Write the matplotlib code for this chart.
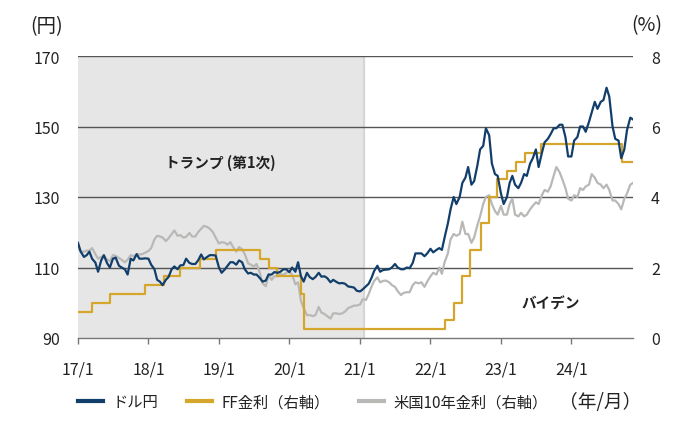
import numpy as np
import pandas as pd
import matplotlib
matplotlib.use('Agg')
import matplotlib.pyplot as plt
from matplotlib.lines import Line2D

plt.rcParams['font.family'] = ['Noto Sans CJK JP', 'DejaVu Sans']

# ---- data (semi-monthly: 1st and 15th, Jan 2017 - Nov 2024) ----
usdjpy = [
    # 2017
    117.0, 114.5, 113.0, 113.5, 114.5, 112.5, 111.4, 108.8, 112.0, 113.5, 111.2, 110.0,
    112.5, 112.8, 110.5, 110.0, 109.5, 108.0, 112.5, 112.0, 113.8, 112.5, 112.5, 112.6,
    # 2018
    112.5, 110.8, 109.5, 106.5, 106.0, 105.0, 106.5, 107.3, 109.5, 110.3, 109.5, 110.6,
    110.7, 112.5, 111.3, 111.0, 111.0, 112.0, 113.7, 112.3, 113.0, 113.5, 113.5, 113.4,
    # 2019
    110.0, 108.5, 109.5, 110.5, 111.5, 111.5, 110.8, 112.0, 111.5, 109.5, 108.3, 108.5,
    108.0, 108.0, 107.0, 106.0, 106.3, 108.0, 108.0, 108.7, 108.5, 108.8, 109.5, 109.5,
    # 2020
    108.7, 110.0, 108.8, 111.5, 107.5, 106.0, 108.5, 107.3, 106.7, 107.3, 108.5, 107.4,
    107.5, 107.0, 105.8, 106.5, 105.9, 105.5, 105.6, 105.4, 104.6, 104.5, 104.3, 103.4,
    # 2021
    103.2, 103.8, 104.7, 105.4, 107.0, 109.0, 110.5, 108.8, 109.3, 109.4, 109.5, 110.0,
    111.0, 110.0, 109.5, 109.5, 110.0, 109.8, 111.3, 114.0, 114.0, 114.0, 113.2, 114.0,
    # 2022
    115.3, 114.3, 115.0, 115.5, 115.0, 118.5, 122.5, 126.5, 130.0, 128.0, 130.0, 134.0,
    135.5, 138.5, 133.5, 134.5, 139.0, 143.5, 144.5, 149.5, 147.5, 139.5, 136.5, 136.0,
    # 2023
    131.0, 128.0, 130.0, 134.0, 136.0, 133.5, 132.5, 134.0, 136.5, 136.0, 139.5, 141.0,
    143.5, 138.5, 142.5, 145.5, 146.5, 147.8, 149.5, 149.5, 150.5, 150.5, 147.0, 141.5,
    # 2024
    141.5, 146.0, 147.0, 150.0, 150.0, 148.5, 151.3, 154.0, 157.0, 155.0, 157.0, 157.5,
    161.0, 158.5, 150.0, 146.5, 146.0, 141.0, 143.5, 149.0, 152.5, 152.0,
]

ust10y = [
    # 2017
    2.55, 2.45, 2.45, 2.48, 2.48, 2.55, 2.38, 2.25, 2.30, 2.33, 2.22, 2.18,
    2.35, 2.33, 2.27, 2.22, 2.15, 2.22, 2.35, 2.32, 2.37, 2.37, 2.38, 2.42,
    # 2018
    2.47, 2.55, 2.80, 2.90, 2.88, 2.85, 2.75, 2.83, 2.95, 3.05, 2.90, 2.92,
    2.85, 2.87, 2.98, 2.88, 2.88, 3.00, 3.10, 3.18, 3.15, 3.10, 3.00, 2.85,
    # 2019
    2.68, 2.72, 2.70, 2.65, 2.72, 2.58, 2.45, 2.58, 2.52, 2.38, 2.12, 2.08,
    2.03, 2.10, 1.85, 1.55, 1.47, 1.80, 1.65, 1.75, 1.75, 1.83, 1.78, 1.85,
    # 2020
    1.88, 1.80, 1.52, 1.58, 1.05, 0.85, 0.65, 0.65, 0.62, 0.65, 0.88, 0.72,
    0.68, 0.62, 0.55, 0.70, 0.70, 0.68, 0.70, 0.75, 0.85, 0.88, 0.92, 0.92,
    # 2021
    0.95, 1.10, 1.08, 1.25, 1.45, 1.62, 1.72, 1.58, 1.62, 1.63, 1.58, 1.50,
    1.45, 1.33, 1.22, 1.28, 1.30, 1.30, 1.50, 1.58, 1.55, 1.58, 1.45, 1.60,
    # 2022
    1.75, 1.85, 1.80, 2.00, 1.82, 2.15, 2.40, 2.80, 2.95, 2.90, 2.95, 3.30,
    2.95, 2.95, 2.70, 2.85, 3.20, 3.45, 3.80, 4.00, 4.05, 3.80, 3.60, 3.50,
    # 2023
    3.75, 3.50, 3.50, 3.80, 3.95, 3.50, 3.45, 3.55, 3.45, 3.50, 3.65, 3.75,
    3.85, 3.80, 4.05, 4.20, 4.15, 4.30, 4.60, 4.85, 4.70, 4.50, 4.25, 3.95,
    # 2024
    3.90, 4.05, 4.00, 4.25, 4.20, 4.30, 4.35, 4.65, 4.55, 4.40, 4.35, 4.25,
    4.35, 4.20, 3.90, 3.90, 3.80, 3.65, 3.95, 4.10, 4.35, 4.40,
]

ff_change_dates = [
    '2017-01-01', '2017-03-15', '2017-06-14', '2017-12-13', '2018-03-21',
    '2018-06-13', '2018-09-26', '2018-12-19', '2019-07-31', '2019-09-18',
    '2019-10-30', '2020-03-03', '2020-03-15', '2022-03-16', '2022-05-04',
    '2022-06-15', '2022-07-27', '2022-09-21', '2022-11-02', '2022-12-14',
    '2023-02-01', '2023-03-22', '2023-05-03', '2023-07-26', '2024-09-18',
]
ff_levels = [
    0.75, 1.00, 1.25, 1.50, 1.75,
    2.00, 2.25, 2.50, 2.25, 2.00,
    1.75, 1.25, 0.25, 0.50, 1.00,
    1.75, 2.50, 3.25, 4.00, 4.50,
    4.75, 5.00, 5.25, 5.50, 5.00,
]

xtick_labels = ['17/1', '18/1', '19/1', '20/1', '21/1', '22/1', '23/1', '24/1']
xtick_dates = ['2017-01-01', '2018-01-01', '2019-01-01', '2020-01-01',
               '2021-01-01', '2022-01-01', '2023-01-01', '2024-01-01']
trump_start, trump_end = '2017-01-01', '2021-01-20'

# ---- build ----
dates = pd.date_range('2017-01-01', periods=len(usdjpy), freq='SMS')
end_date = dates[-1]
ff_x = list(pd.to_datetime(ff_change_dates)) + [end_date]
ff_y = ff_levels + [ff_levels[-1]]

NAVY = '#123e6b'
GOLD = '#d4a72c'
GRAY = '#b8b8b6'
SHADE = '#e6e6e6'
GRID = '#555555'
TXT = '#222222'

fig = plt.figure(figsize=(7.0, 4.27), dpi=100)
ax = fig.add_axes([78/700, 1-339/427, (633-78)/700, (339-57)/427])
ax2 = ax.twinx()

ax2.axvspan(pd.Timestamp(trump_start), pd.Timestamp(trump_end), color=SHADE, zorder=0, lw=0)
ax2.axvline(pd.Timestamp(trump_end), color='#d6d6d6', lw=1.6, zorder=0.5)
for yv in [2, 4, 6, 8]:
    ax2.axhline(yv, color=GRID, lw=1.0, zorder=1)
ax2.plot(dates, ust10y, color=GRAY, lw=1.6, zorder=2)
ax2.plot(ff_x, ff_y, color=GOLD, lw=1.6, drawstyle='steps-post', zorder=3)

ax.set_zorder(ax2.get_zorder() + 1)
ax.patch.set_visible(False)
ax.plot(dates, usdjpy, color=NAVY, lw=1.6, zorder=4)

ax.set_xlim(pd.Timestamp('2017-01-01'), end_date)
ax.set_ylim(90, 170)
ax2.set_ylim(0, 8)
ax.set_yticks([90, 110, 130, 150, 170])
ax2.set_yticks([0, 2, 4, 6, 8])
ax.set_xticks(pd.to_datetime(xtick_dates))
ax.set_xticklabels(xtick_labels)

for a in (ax, ax2):
    for s in ['top', 'left', 'right']:
        a.spines[s].set_visible(False)
    a.spines['bottom'].set_color('#777777')
    a.spines['bottom'].set_linewidth(1.0)
ax2.spines['bottom'].set_visible(False)

ax.tick_params(axis='y', length=0, pad=13, labelsize=11.5, colors=TXT)
ax2.tick_params(axis='y', length=0, pad=13, labelsize=11.5, colors=TXT)
ax.tick_params(axis='x', length=4.5, width=1.0, color='#777777', pad=12,
               labelsize=11.5, labelcolor=TXT, direction='out')

ax.text(pd.Timestamp('2019-01-10'), 140, 'トランプ (第1次)', ha='center', va='center',
        fontsize=10.5, fontweight='bold', color=TXT)
ax.text(pd.Timestamp('2023-09-15'), 100, 'バイデン', ha='center', va='center',
        fontsize=10.5, fontweight='bold', color=TXT)

fig.text(47/700, 1-27/427, '(円)', ha='center', va='center', fontsize=14, color=TXT)
fig.text(647/700, 1-26/427, '(%)', ha='center', va='center', fontsize=14, color=TXT)

handles = [Line2D([], [], color=NAVY, lw=3),
           Line2D([], [], color=GOLD, lw=3),
           Line2D([], [], color=GRAY, lw=3)]
labels = ['ドル円', 'FF金利（右軸）', '米国10年金利（右軸）']
fig.legend(handles, labels, loc='center left', bbox_to_anchor=(78/700, 1-403/427),
           ncol=3, frameon=False, fontsize=11, handlelength=1.65, handletextpad=0.6,
           columnspacing=1.9, borderaxespad=0, borderpad=0, labelcolor=TXT)
fig.text(600/700, 1-403/427, '（年/月）', ha='center', va='center', fontsize=13.5, color=TXT)

fig.savefig('out.png', dpi=100)
